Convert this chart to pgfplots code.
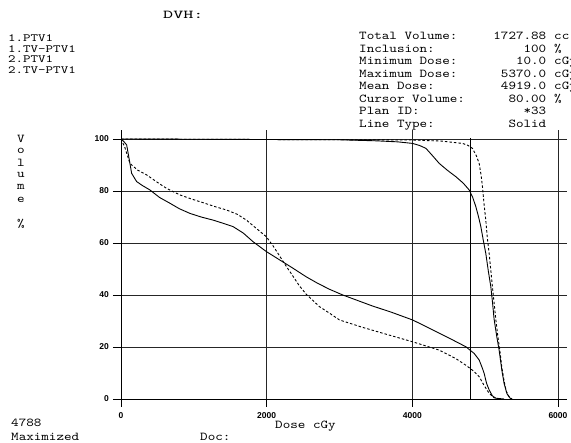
\documentclass[border=0pt]{standalone}
\usepackage{fontspec}
\usepackage{pgfplots}
\pgfplotsset{compat=1.18}
\newfontfamily\cour{lmmono10-regular.otf}[FakeStretch=1.2]
\newfontfamily\courl{lmmono10-regular.otf}[FakeStretch=1.3]
\newfontfamily\courd{lmmono10-regular.otf}[FakeStretch=1.6]
\newfontfamily\tickfont{Liberation Sans}
\newcommand\ct{\cour\fontsize{12}{12.5}\selectfont}
\newcommand\cl{\courl\fontsize{11}{11}\selectfont}
\newcommand\cd{\courd\fontsize{12}{12}\selectfont}

\begin{document}
\begin{tikzpicture}[x=1pt,y=1pt]
\begin{axis}[
    at={(121pt,44pt)}, anchor=south west,
    scale only axis, width=445.7pt, height=269.1pt,
    xmin=0, xmax=6120, ymin=0, ymax=103.5,
    axis x line=bottom, axis y line=left,
    axis line style={-, black, line width=0.8pt},
    xtick={0,2000,4000,6000},
    ytick={0,20,40,60,80,100},
    tick align=outside, major tick length=8pt,
    tick style={black, line width=0.8pt},
    grid=major, grid style={black!85, line width=0.8pt},
    /pgf/number format/assume math mode=true,
    /pgf/number format/set thousands separator={},
    ticklabel style={font=\tickfont\bfseries\fontsize{8.5}{9}\selectfont, inner sep=0pt},
    xticklabel style={anchor=north, yshift=-5pt},
    yticklabel style={anchor=east, xshift=-4pt},
]
% low solid
\addplot[black, line width=0.9pt] coordinates {
(0,100)(40,99)(78,97.7)(114,92)(146,86.8)(215,83.6)(300,82)(397,80.4)
(530,77.5)(671,75.3)(800,73.2)(945,71.4)(1100,70)(1265,68.8)(1400,67.6)
(1539,66.3)(1680,63.8)(1813,60.5)(1996,56.7)(2178,53.5)(2350,50.5)
(2543,47)(2700,44.5)(2863,42.2)(3045,40)(3228,38.1)(3450,35.8)(3700,33.5)
(4004,30.4)(4250,27)(4500,23.5)(4735,20.1)(4850,17.5)(4918,15)(4960,12)
(4986,9.9)(5020,6)(5055,3.5)(5100,1.2)(5146,0.3)(5260,0)
};
% low dashed
\addplot[black, line width=0.9pt, dash pattern=on 2.5pt off 2pt] coordinates {
(0,100)(50,97)(123,90.6)(230,88)(352,86.2)(490,83.5)(626,81)(808,78.5)
(960,77)(1127,75.5)(1290,74)(1448,72.7)(1600,71)(1722,68.8)(1850,65.8)
(1996,62.4)(2090,58.8)(2178,55)(2270,51)(2360,47.3)(2450,43.5)(2543,40.3)
(2726,35.5)(2863,33)(3000,30.4)(3300,27.7)(3593,25.3)(4004,22)(4370,18.8)
(4600,15.5)(4735,13)(4830,11)(4918,8.6)(4990,5)(5055,2.2)(5120,0.5)(5192,0)
};
% high solid
\addplot[black, line width=0.9pt] coordinates {
(0,100)(3000,99.7)(3500,99.3)(3800,98.9)(4004,98.3)(4100,97.5)(4187,96.4)
(4280,93.5)(4370,90.6)(4480,88)(4598,85.5)(4700,83)(4781,80.4)(4830,77.5)
(4872,74)(4910,70)(4941,66.3)(4975,61)(5009,56)(5045,49)(5078,43.2)
(5100,37.5)(5123,30.7)(5160,24)(5192,18.8)(5230,11)(5260,6)(5300,2)(5352,0)
};
% high dashed
\addplot[black, line width=0.9pt, dash pattern=on 2.5pt off 2pt] coordinates {
(0,100)(4000,99.6)(4400,99.2)(4689,98.3)(4760,97.6)(4826,96.4)(4880,93.5)
(4918,90.6)(4945,86)(4963,81.7)(4985,75)(5009,68.8)(5030,62)(5055,56)
(5078,49.5)(5100,43.2)(5123,37)(5146,30.7)(5175,24)(5205,18)(5230,12)
(5260,7)(5290,3)(5330,0.8)(5370,0)
};
\draw[black, line width=0.8pt] (axis cs:4800,0) -- (axis cs:4800,100.5);
\end{axis}

\node[anchor=base west, inner sep=0pt, font=\cd] at (163,424.4) {DVH:};
\foreach \t/\y in {1.PTV1/401.4, 1.TV-PTV1/390.7, 2.PTV1/380.4, 2.TV-PTV1/369.7}
  \node[anchor=base west, inner sep=0pt, font=\cl] at (8,\y) {\t};
\foreach \l/\v/\u/\y in {Total Volume:/1727.88/cc/403.4, Inclusion:/100/\%/390.9,
  Minimum Dose:/10.0/cGy/378.4, Maximum Dose:/5370.0/cGy/365.9,
  Mean Dose:/4919.0/cGy/353.4, Cursor Volume:/80.00/\%/340.9,
  Plan ID:/*33//328.4, Line Type:/Solid//315.9}{
  \node[anchor=base west, inner sep=0pt, font=\ct] at (359,\y) {\l};
  \node[anchor=base east, inner sep=0pt, font=\ct] at (546.5,\y) {\v};
  \node[anchor=base west, inner sep=0pt, font=\ct] at (554,\y) {\u};
}
\foreach \c/\y in {V/300.4, o/289.4, l/276.4, u/265.4, m/253.4, e/240.4, \%/215.4}
  \node[anchor=base, inner sep=0pt, font=\ct] at (21,\y) {\c};
\node[anchor=base west, inner sep=0pt, font=\ct] at (11,16.4) {4788};
\node[anchor=base west, inner sep=0pt, font=\ct] at (11,2.4) {Maximized};
\node[anchor=base west, inner sep=0pt, font=\ct] at (200,2.4) {Doc:};
\node[anchor=base west, inner sep=0pt, font=\ct] at (275,14.4) {Dose cGy};
\pgfresetboundingbox
\useasboundingbox (0,0) rectangle (571,443);
\end{tikzpicture}
\end{document}
